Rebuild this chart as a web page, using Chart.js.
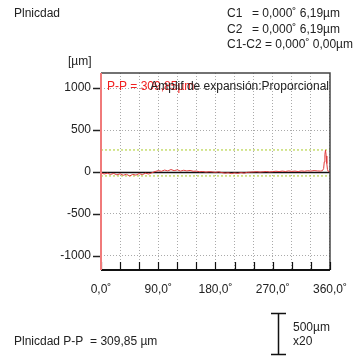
<!DOCTYPE html>
<html>
<head>
<meta charset="utf-8">
<script src="https://cdn.jsdelivr.net/npm/chart.js@4/dist/chart.umd.min.js"></script>
<style>
  html, body { margin: 0; padding: 0; background: #fff; }
  #wrap { width: 359px; height: 360px; position: relative; }
</style>
</head>
<body>
<div id="wrap"><canvas id="c" width="359" height="360"></canvas></div>
<script>
// Flatness profile: angle (deg) vs deviation (µm)
const angles = [0, 5, 10, 15, 20, 25, 30, 35, 40, 45, 50, 55, 60, 65, 70, 75, 80,
  85, 90, 95, 100, 105, 110, 115, 120, 125, 130, 135, 140, 145, 150, 155, 160,
  165, 170, 175, 180, 185, 190, 195, 200, 205, 210, 215, 220, 225, 230, 235, 240,
  245, 250, 255, 260, 265, 270, 275, 280, 285, 290, 295, 300, 305, 310, 315, 320,
  325, 330, 335, 340, 345, 348, 350, 351, 352, 353, 354, 355, 356, 357, 360];
const deviation = [-10, -25, -15, -30, -18, -35, -22, -40, -28, -47.90, -30, -38, -20, -32, -15, -25, -10,
  5, 15, 8, 22, 12, 28, 15, 25, 10, 20, 12, 18, 8, 10, 2, 5,
  -2, 3, 0, -5, 2, -8, -15, -10, -20, -12, -18, -8, -15, -5, -2, 0,
  3, -2, 2, 5, 0, 3, 8, 4, 10, 5, 12, 6, 10, 4, 12, 8,
  14, 10, 16, 12, 10, 14, 40, 120, 210, 261.95, 190, 100, 30, 8, 5];
const xTicks = [0, 90, 180, 270, 360];
const yTicks = [-1000, -500, 0, 500, 1000];

const FONT = '"Liberation Sans", Arial, sans-serif';
const DEG = '\u02DA';
const maxVal = Math.max(...deviation);
const minVal = Math.min(...deviation);
const pp = maxVal - minVal;
const fmt = (v, d) => v.toFixed(d).replace('.', ',');

const points = angles.map((a, i) => ({ x: a, y: deviation[i] }));
const xGrid = [];
for (let v = 0; v <= 360; v += 30) xGrid.push(v);

const frame = {
  id: 'frame',
  beforeDatasetsDraw(chart) {
    const { ctx, chartArea: a, scales: { y } } = chart;
    const y0 = Math.round(y.getPixelForValue(0)) + 0.5;
    ctx.save();
    ctx.strokeStyle = '#111';
    ctx.lineWidth = 1.5;
    ctx.beginPath();
    ctx.moveTo(a.left, y0);
    ctx.lineTo(a.right, y0);
    ctx.stroke();
    ctx.restore();
  },
  afterDraw(chart) {
    const { ctx, chartArea: a, scales: { x, y } } = chart;
    ctx.save();
    // top and right frame
    ctx.strokeStyle = '#444';
    ctx.lineWidth = 1.5;
    ctx.beginPath();
    ctx.moveTo(a.left, a.top);
    ctx.lineTo(a.right, a.top);
    ctx.lineTo(a.right, a.bottom);
    ctx.stroke();
    // bottom axis
    ctx.strokeStyle = '#111';
    ctx.lineWidth = 2;
    ctx.beginPath();
    ctx.moveTo(a.left, a.bottom);
    ctx.lineTo(a.right, a.bottom);
    ctx.stroke();
    // inward x ticks every 30°
    ctx.lineWidth = 1.2;
    xGrid.forEach(v => {
      const px = Math.round(x.getPixelForValue(v)) + 0.5;
      ctx.beginPath();
      ctx.moveTo(px, a.bottom);
      ctx.lineTo(px, a.bottom - 8);
      ctx.stroke();
    });
    // y ticks
    ctx.strokeStyle = '#222';
    ctx.lineWidth = 1.5;
    yTicks.forEach(v => {
      const py = Math.round(y.getPixelForValue(v)) + 0.5;
      ctx.beginPath();
      ctx.moveTo(a.left - 8, py);
      ctx.lineTo(a.left, py);
      ctx.stroke();
    });
    // red left axis
    ctx.strokeStyle = '#f07a7a';
    ctx.lineWidth = 2;
    ctx.beginPath();
    ctx.moveTo(a.left, a.top);
    ctx.lineTo(a.left, a.bottom);
    ctx.stroke();

    // texts
    ctx.font = '12px ' + FONT;
    ctx.textBaseline = 'middle';
    ctx.fillStyle = '#222';
    ctx.textAlign = 'left';
    ctx.fillText('Plnicdad', 14, 14);
    ctx.fillText('C1', 227, 14);
    ctx.fillText('= 0,000' + DEG + ' 6,19µm', 252, 14);
    ctx.fillText('C2', 227, 30);
    ctx.fillText('= 0,000' + DEG + ' 6,19µm', 252, 30);
    ctx.fillText('C1-C2 = 0,000' + DEG + ' 0,00µm', 227, 45);
    ctx.fillText('[µm]', 68, 62);

    ctx.fillStyle = '#f02020';
    ctx.fillText('P-P = ' + fmt(pp, 2) + 'µm', 107, 87);
    ctx.fillStyle = '#222';
    ctx.textAlign = 'right';
    ctx.fillText('Amplif de expansión:Proporcional', a.right - 1, 87);

    ctx.textAlign = 'left';
    ctx.fillText('Plnicdad P-P  = ' + fmt(pp, 2) + ' µm', 14, 342);
    ctx.fillText('500µm', 293, 328);
    ctx.fillText('x20', 293, 342);

    // scale bar
    ctx.strokeStyle = '#111';
    ctx.lineWidth = 1.5;
    ctx.beginPath();
    ctx.moveTo(278.5, 313);
    ctx.lineTo(278.5, 355);
    ctx.moveTo(271, 313.5);
    ctx.lineTo(286, 313.5);
    ctx.moveTo(271, 354.5);
    ctx.lineTo(286, 354.5);
    ctx.stroke();
    ctx.restore();
  }
};

new Chart(document.getElementById('c'), {
  type: 'line',
  data: {
    datasets: [
      {
        data: points,
        borderColor: '#e03c3c',
        borderWidth: 1,
        pointRadius: 0,
        tension: 0,
        order: 1
      },
      {
        data: [{ x: 0, y: maxVal }, { x: 360, y: maxVal }],
        borderColor: '#b8d44a',
        borderWidth: 1.2,
        borderDash: [2, 2],
        pointRadius: 0,
        order: 2
      },
      {
        data: [{ x: 0, y: minVal }, { x: 360, y: minVal }],
        borderColor: '#b8d44a',
        borderWidth: 1.2,
        borderDash: [2, 2],
        pointRadius: 0,
        order: 2
      }
    ]
  },
  options: {
    responsive: false,
    animation: false,
    layout: { padding: { top: 73, right: 26, left: 0, bottom: 0 } },
    plugins: { legend: { display: false }, tooltip: { enabled: false } },
    scales: {
      x: {
        type: 'linear',
        min: 0,
        max: 360,
        afterFit: s => { s.height = 90; },
        afterBuildTicks: s => { s.ticks = xGrid.map(v => ({ value: v })); },
        ticks: {
          autoSkip: false,
          maxRotation: 0,
          padding: 12,
          color: '#222',
          font: { family: FONT, size: 12 },
          callback: v => xTicks.includes(v) ? fmt(v, 1) + DEG : ''
        },
        grid: { color: '#aaa', lineWidth: 1, drawTicks: false },
        border: { display: false, dash: [1, 2] }
      },
      y: {
        type: 'linear',
        min: -1170,
        max: 1180,
        afterFit: s => { s.width = 101; },
        afterBuildTicks: s => { s.ticks = yTicks.map(v => ({ value: v })); },
        ticks: {
          autoSkip: false,
          padding: 10,
          color: '#222',
          font: { family: FONT, size: 12 },
          callback: v => String(v)
        },
        grid: {
          color: c => (c.tick && c.tick.value === 0) ? 'rgba(0,0,0,0)' : '#aaa',
          lineWidth: 1,
          drawTicks: false
        },
        border: { display: false, dash: [1, 2] }
      }
    }
  },
  plugins: [frame]
});
</script>
</body>
</html>
